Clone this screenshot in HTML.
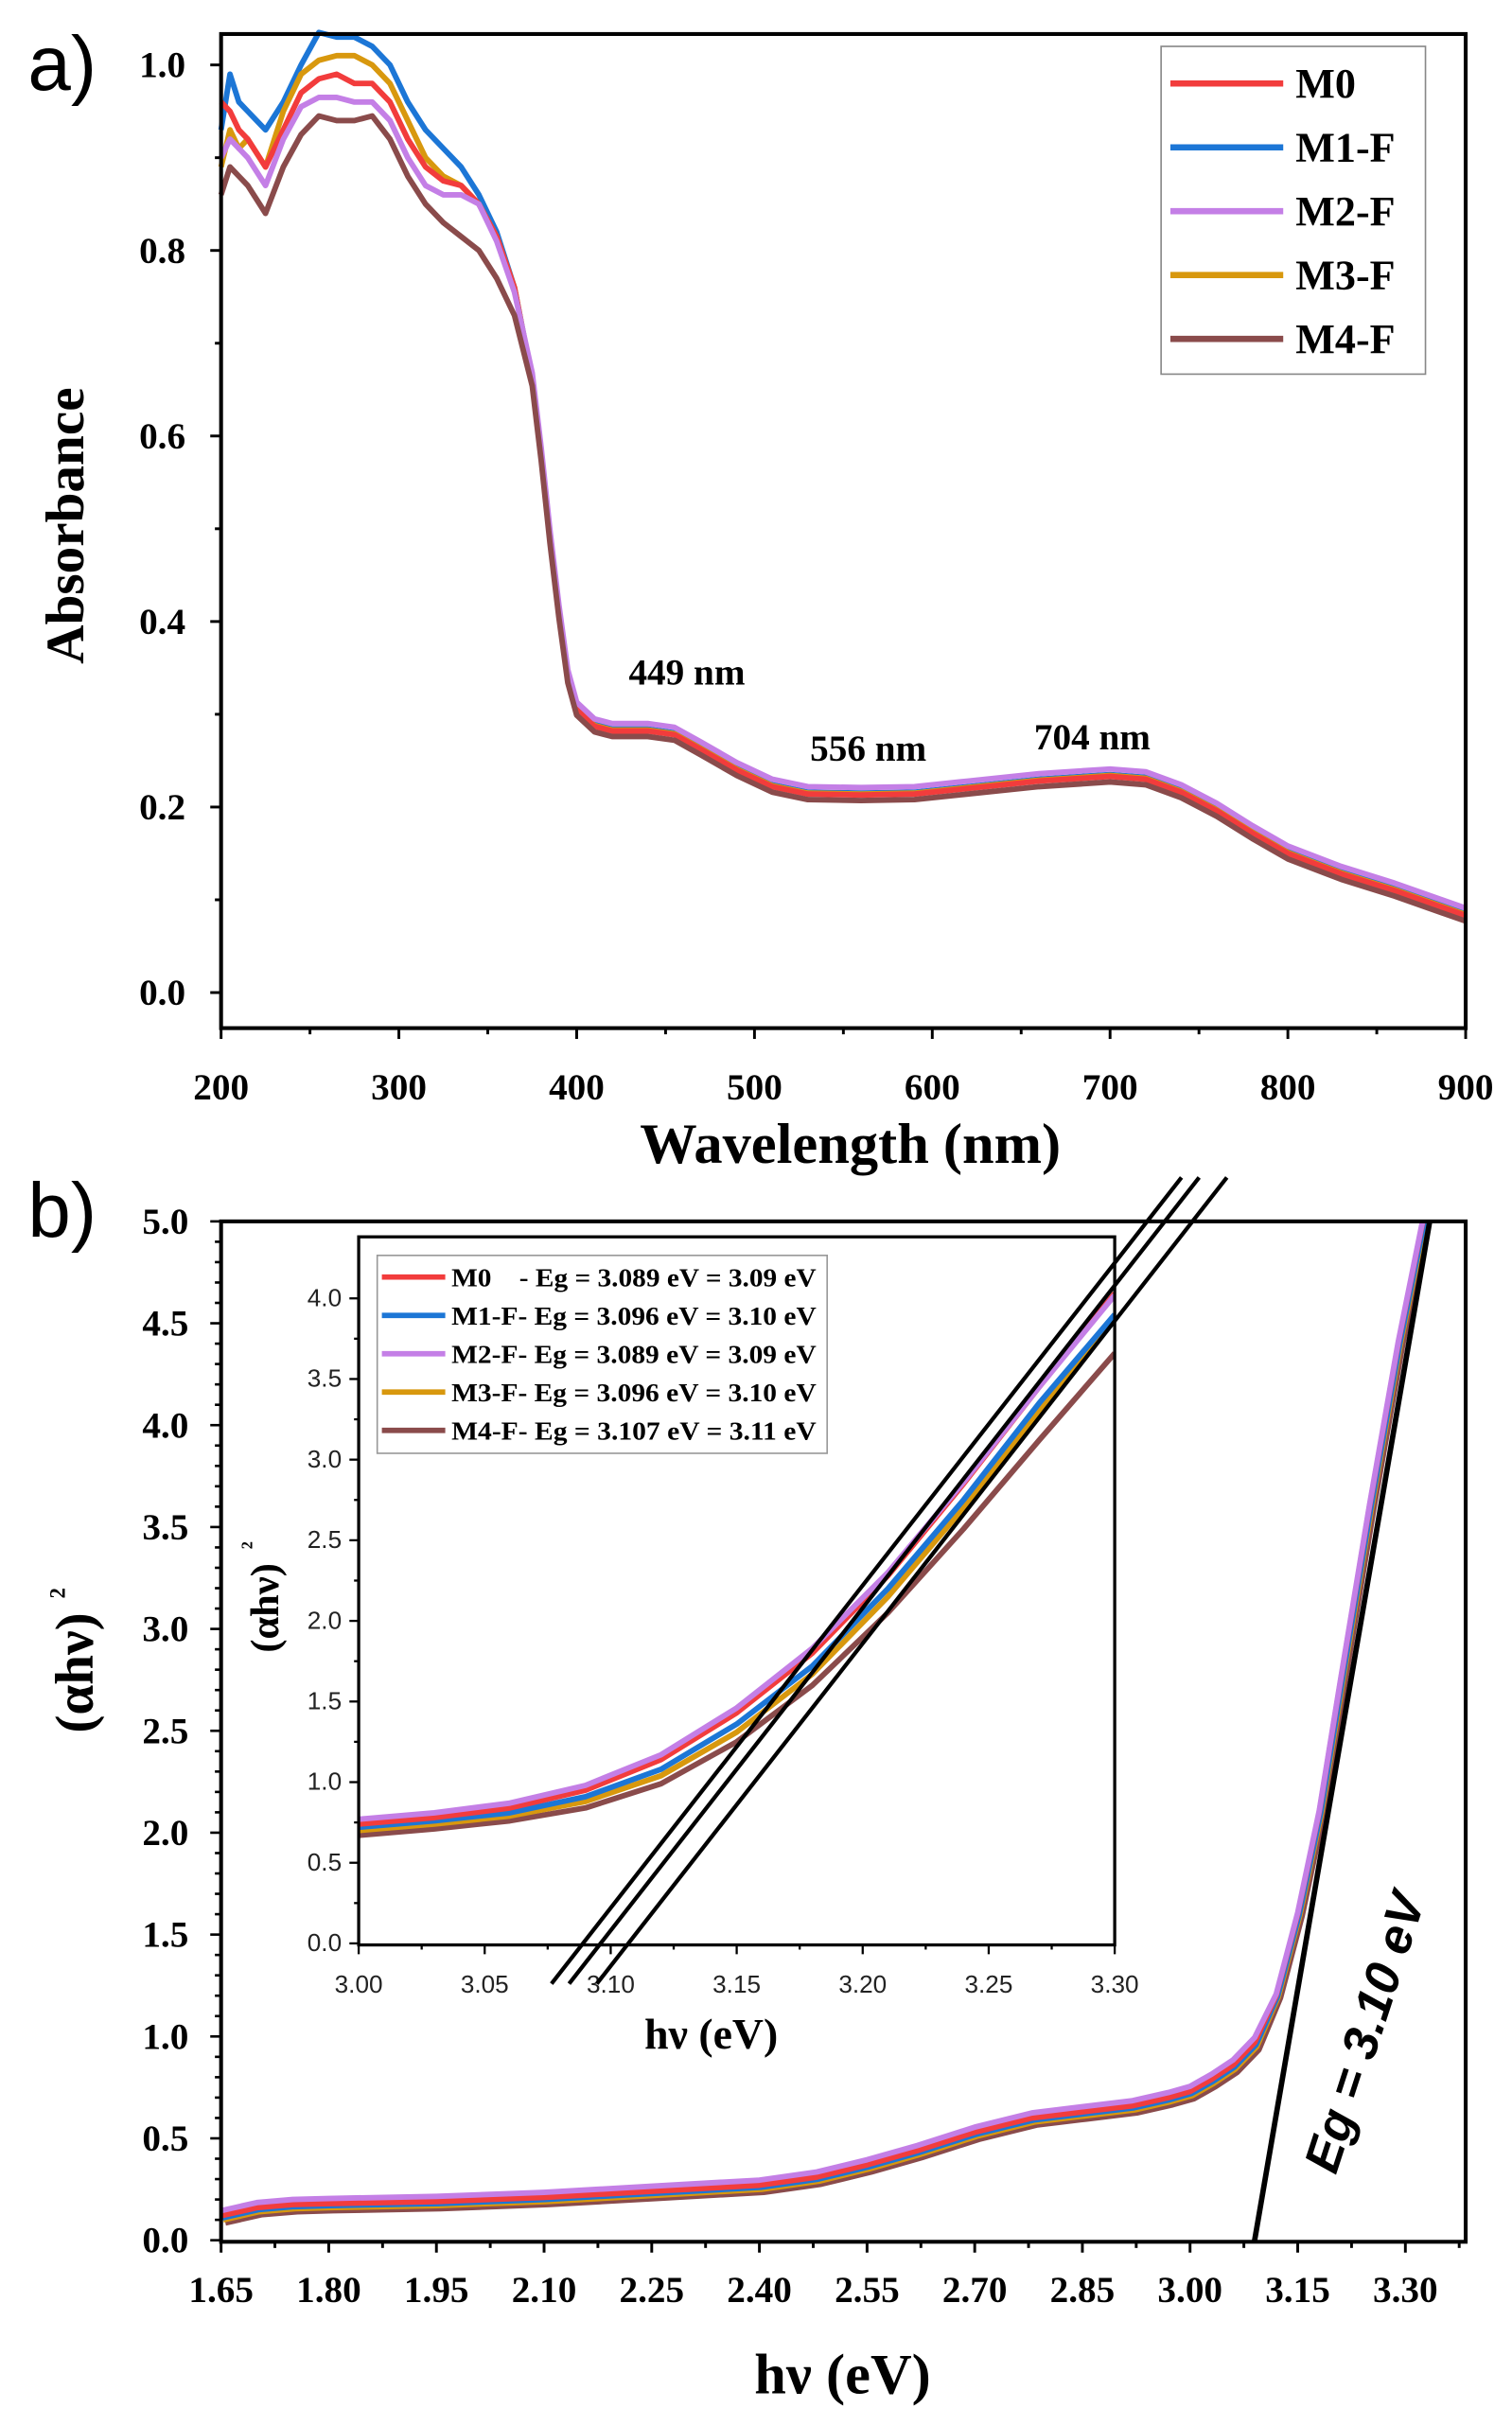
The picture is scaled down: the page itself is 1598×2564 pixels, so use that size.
<!DOCTYPE html>
<html><head><meta charset="utf-8"><style>
html,body{margin:0;padding:0;background:#fff}
svg{display:block}
.tk{font-family:"Liberation Serif",serif;font-weight:bold;font-size:24px;fill:#000}
.it{font-family:"Liberation Sans",sans-serif;font-size:16px;fill:#222}
.lg{font-family:"Liberation Serif",serif;font-weight:bold;font-size:27px}
.ilg{font-family:"Liberation Serif",serif;font-weight:bold;font-size:17px;white-space:pre}
</style></head><body>
<svg id="fig" width="1598" height="2564" viewBox="0 0 1598 2564" xmlns="http://www.w3.org/2000/svg">
<g id="root" transform="scale(1.634)">
<text x="18" y="58" font-family="Liberation Sans,sans-serif" font-size="50">a)</text>
<text x="18" y="800" font-family="Liberation Sans,sans-serif" font-size="50">b)</text>
<g id="pa"></g>
<g id="pb"></g>
</g>
</svg>
<script>
// ---------- Panel a data ----------
const seriesNames = ["M0","M1-F","M2-F","M3-F","M4-F"];
const seriesColors = ["#f23c3c","#1c76d6","#c47fe6","#d8980e","#8a4b4b"];
const uvWavelengths = [200,205,210,215,225,235,245,255,265,275,285,295,305,315,325,335,345,355,365];
const uvM0 = [0.96,0.95,0.93,0.92,0.89,0.93,0.97,0.985,0.99,0.98,0.98,0.96,0.92,0.89,0.875,0.87,0.85,0.815,0.76];
const uvM1 = [0.93,0.99,0.96,0.95,0.93,0.96,1.0,1.035,1.03,1.03,1.02,1.0,0.96,0.93,0.91,0.89,0.86,0.82,0.76];
const uvM2 = [0.90,0.92,0.91,0.90,0.87,0.92,0.955,0.965,0.965,0.96,0.96,0.94,0.90,0.87,0.86,0.86,0.85,0.81,0.755];
const uvM3 = [0.89,0.93,0.91,0.92,0.89,0.95,0.99,1.005,1.01,1.01,1.0,0.98,0.94,0.90,0.88,0.87,0.85,0.815,0.76];
const uvM4 = [0.86,0.89,0.88,0.87,0.84,0.89,0.925,0.945,0.94,0.94,0.945,0.92,0.88,0.85,0.83,0.815,0.80,0.77,0.73];
const tailWavelengths = [375,380,385,390,395,400,410,420,440,455,470,490,510,530,560,590,620,660,700,720,740,760,780,800,830,860,900];
const tailValues = [0.66,0.58,0.49,0.41,0.34,0.305,0.287,0.282,0.282,0.278,0.262,0.24,0.222,0.214,0.213,0.214,0.22,0.228,0.233,0.23,0.216,0.196,0.172,0.15,0.128,0.11,0.083];
const tailOffsets = [0,0.002,0.008,0.001,-0.006];
const xTicksA = [200,300,400,500,600,700,800,900];
const yTicksA = ["0.0","0.2","0.4","0.6","0.8","1.0"];
const peakLabels = ["449 nm","556 nm","704 nm"];
const peakPos = [[462,0.332],[564,0.25],[690,0.262]];

// ---------- Panel b data ----------
const bEnergy = [1.65,1.70,1.75,1.80,1.95,2.10,2.25,2.40,2.48,2.55,2.62,2.70,2.78,2.85,2.92,2.97,3.00,3.03,3.06,3.09,3.12,3.15,3.18,3.21,3.25,3.29,3.33];
const bM0 = [0.12,0.16,0.175,0.18,0.19,0.21,0.24,0.27,0.31,0.37,0.44,0.53,0.60,0.63,0.66,0.70,0.73,0.79,0.86,0.97,1.2,1.6,2.1,2.75,3.6,4.4,5.1];
const bOffsets = [0,-0.01,0.025,-0.02,-0.035];
const bShift = [0,0.002,0,0.003,0.006];
const xTicksB = ["1.65","1.80","1.95","2.10","2.25","2.40","2.55","2.70","2.85","3.00","3.15","3.30"];
const yTicksB = ["0.0","0.5","1.0","1.5","2.0","2.5","3.0","3.5","4.0","4.5","5.0"];
const mainFitIntercept = [3.09];
const mainFitSlope = [20.5];

// ---------- Inset data ----------
const insetEnergy = [3.00,3.03,3.06,3.09,3.12,3.15,3.18,3.21,3.24,3.27,3.30];
const insM0 = [0.74,0.78,0.84,0.95,1.14,1.43,1.80,2.28,2.85,3.45,4.03];
const insM1 = [0.72,0.76,0.81,0.91,1.08,1.36,1.72,2.20,2.75,3.35,3.90];
const insM2 = [0.77,0.81,0.87,0.98,1.17,1.46,1.83,2.30,2.86,3.45,4.02];
const insM3 = [0.70,0.74,0.79,0.88,1.04,1.31,1.67,2.15,2.70,3.30,3.88];
const insM4 = [0.67,0.71,0.76,0.84,0.99,1.25,1.60,2.05,2.57,3.12,3.66];
const insetLegend = ["M0    - Eg = 3.089 eV = 3.09 eV","M1-F- Eg = 3.096 eV = 3.10 eV","M2-F- Eg = 3.089 eV = 3.09 eV","M3-F- Eg = 3.096 eV = 3.10 eV","M4-F- Eg = 3.107 eV = 3.11 eV"];
const fitIntercepts = [3.089,3.096,3.107];
const fitSlope = [20.0];
const xTicksI = ["3.00","3.05","3.10","3.15","3.20","3.25","3.30"];
const yTicksI = ["0.0","0.5","1.0","1.5","2.0","2.5","3.0","3.5","4.0"];

const NS="http://www.w3.org/2000/svg";
function mk(parent,tag,attrs,text){const e=document.createElementNS(NS,tag);for(const k in attrs)e.setAttribute(k,attrs[k]);if(text!==undefined)e.textContent=text;parent.appendChild(e);return e;}
function pathD(xs,ys,fx,fy){return xs.map((x,i)=>(i?"L":"M")+fx(x).toFixed(2)+","+fy(ys[i]).toFixed(2)).join("");}

// ===== Panel A =====
const pa=document.getElementById('pa');
const axA={l:143,r:948,t:22,b:665};
const xA=v=>143+(v-200)*(805/700);
const yA=v=>642-v*600;
const uvSets=[uvM0,uvM1,uvM2,uvM3,uvM4];
[1,3,0,2,4].forEach(s=>{
  const xs=uvWavelengths.concat(tailWavelengths);
  const ys=uvSets[s].concat(tailValues.map(v=>v+tailOffsets[s]));
  const p=mk(pa,'path',{d:pathD(xs,ys,xA,yA),fill:'none',stroke:seriesColors[s],'stroke-width':3.6,'stroke-linejoin':'round'});
  
  
});
mk(pa,'rect',{x:axA.l,y:axA.t,width:axA.r-axA.l,height:axA.b-axA.t,fill:'none',stroke:'#000','stroke-width':2.5});
for(let v=200;v<=900;v+=50){const x=xA(v);const maj=v%100===0;mk(pa,'line',{x1:x,x2:x,y1:axA.b,y2:axA.b+(maj?7:4),stroke:'#000','stroke-width':1.8});}
xTicksA.forEach(v=>{const t=mk(pa,'text',{x:xA(v),y:711,'text-anchor':'middle',class:'tk'},String(v));});
for(let i=0;i<=10;i++){const y=yA(i*0.1);mk(pa,'line',{x1:axA.l,x2:axA.l-(i%2?4:7),y1:y,y2:y,stroke:'#000','stroke-width':1.8});}
yTicksA.forEach(s=>{const t=mk(pa,'text',{x:120,y:yA(parseFloat(s))+8,'text-anchor':'end',class:'tk'},s);});
let t=mk(pa,'text',{x:550,y:752,'text-anchor':'middle','font-family':'Liberation Serif,serif','font-weight':'bold','font-size':37},'Wavelength (nm)');

t=mk(pa,'text',{x:0,y:0,transform:'translate(54,340) rotate(-90)','text-anchor':'middle','font-family':'Liberation Serif,serif','font-weight':'bold','font-size':35},'Absorbance');

peakLabels.forEach((s,i)=>{const e=mk(pa,'text',{x:xA(peakPos[i][0]),y:yA(peakPos[i][1]),'text-anchor':'middle',class:'tk'},s);});
const lgA=mk(pa,'g',{});
mk(lgA,'rect',{x:751,y:30,width:171,height:212,fill:'#fff',stroke:'#888','stroke-width':1});
seriesNames.forEach((n,i)=>{const y=54+i*41.3;const g=mk(lgA,'g',{});
mk(g,'line',{x1:757,x2:830,y1:y,y2:y,stroke:seriesColors[i],'stroke-width':4});
mk(g,'text',{x:838,y:y+9,class:'lg'},n);});

// ===== Panel B =====
const pb=document.getElementById('pb');
const axB={l:143,r:948,t:790,b:1450};
const xB=v=>143+(v-1.65)*(766/1.65);
const yB=v=>1449-v*131.8;
const cp=mk(pb,'clipPath',{id:'cb'});mk(cp,'rect',{x:axB.l,y:axB.t,width:axB.r-axB.l,height:axB.b-axB.t});
const gB=mk(pb,'g',{'clip-path':'url(#cb)'});
[4,3,1,0,2].forEach(s=>{
  const xs=bEnergy.map(e=>e+bShift[s]);const ys=bM0.map(v=>Math.max(0,v+bOffsets[s]*(v<1.2?1:0.3)));
  const p=mk(gB,'path',{d:pathD(xs,ys,xB,yB),fill:'none',stroke:seriesColors[s],'stroke-width':3.6,'stroke-linejoin':'round'});
  
  
});
const y0f=-0.15,y1f=5.2;
let f=mk(gB,'line',{x1:xB(mainFitIntercept[0]+y0f/mainFitSlope[0]),y1:yB(y0f),x2:xB(mainFitIntercept[0]+y1f/mainFitSlope[0]),y2:yB(y1f),stroke:'#000','stroke-width':3.5});

mk(pb,'rect',{x:axB.l,y:axB.t,width:axB.r-axB.l,height:axB.b-axB.t,fill:'none',stroke:'#000','stroke-width':2.5});
for(let i=0;i<=24;i++){const v=1.65+i*0.075;const x=xB(v);if(x>axB.r)break;mk(pb,'line',{x1:x,x2:x,y1:axB.b,y2:axB.b+(i%2?4:7),stroke:'#000','stroke-width':1.8});}
xTicksB.forEach(s=>{const e=mk(pb,'text',{x:xB(parseFloat(s)),y:1489,'text-anchor':'middle',class:'tk'},s);});
for(let i=0;i<=50;i++){const y=yB(i*0.1);mk(pb,'line',{x1:axB.l,x2:axB.l-(i%5?4:7),y1:y,y2:y,stroke:'#000','stroke-width':1.6});}
yTicksB.forEach(s=>{const e=mk(pb,'text',{x:122,y:yB(parseFloat(s))+8,'text-anchor':'end',class:'tk'},s);});
t=mk(pb,'text',{x:545,y:1548,'text-anchor':'middle','font-family':'Liberation Serif,serif','font-weight':'bold','font-size':37},'hν (eV)');

t=mk(pb,'text',{x:0,y:0,transform:'translate(60,1082) rotate(-90)','text-anchor':'middle','font-family':'Liberation Serif,serif','font-weight':'bold','font-size':35},'(αhν)');

mk(pb,'text',{x:0,y:0,transform:'translate(42,1034) rotate(-90)','font-family':'Liberation Serif,serif','font-weight':'bold','font-size':14},'2');
t=mk(pb,'text',{x:0,y:0,transform:'translate(893,1318) rotate(-72)','text-anchor':'middle','font-family':'Liberation Sans,sans-serif','font-style':'italic','font-weight':'bold','font-size':32},'Eg = 3.10 eV');


// ===== Inset =====
const ins=mk(pb,'g',{});
const axI={l:232,r:721,t:800,b:1258};
const xI=v=>232+(v-3.0)*(489/0.3);
const yI=v=>1257-v*104.3;
mk(ins,'rect',{x:axI.l,y:axI.t,width:axI.r-axI.l,height:axI.b-axI.t,fill:'#fff'});
const ci=mk(ins,'clipPath',{id:'ci'});mk(ci,'rect',{x:axI.l,y:axI.t,width:axI.r-axI.l,height:axI.b-axI.t});
const gI=mk(ins,'g',{'clip-path':'url(#ci)'});
const insSets=[insM0,insM1,insM2,insM3,insM4];
[4,3,1,0,2].forEach(s=>{const p=mk(gI,'path',{d:pathD(insetEnergy,insSets[s],xI,yI),fill:'none',stroke:seriesColors[s],'stroke-width':3.6,'stroke-linejoin':'round'});
});
mk(ins,'rect',{x:axI.l,y:axI.t,width:axI.r-axI.l,height:axI.b-axI.t,fill:'none',stroke:'#000','stroke-width':2});
fitIntercepts.forEach((e0,i)=>{const ya=-0.25,yb=4.75;
const l=mk(pb,'line',{x1:xI(e0+ya/fitSlope[0]),y1:yI(ya),x2:xI(e0+yb/fitSlope[0]),y2:yI(yb),stroke:'#000','stroke-width':2.6});
});
for(let i=0;i<=12;i++){const x=xI(3+i*0.025);mk(ins,'line',{x1:x,x2:x,y1:axI.b,y2:axI.b+(i%2?3:6),stroke:'#000','stroke-width':1.4});}
xTicksI.forEach(s=>{const e=mk(ins,'text',{x:xI(parseFloat(s)),y:1289,'text-anchor':'middle',class:'it'},s);});
for(let i=0;i<=16;i++){const y=yI(i*0.25);mk(ins,'line',{x1:axI.l,x2:axI.l-(i%2?3:6),y1:y,y2:y,stroke:'#000','stroke-width':1.4});}
yTicksI.forEach(s=>{const e=mk(ins,'text',{x:221,y:yI(parseFloat(s))+5,'text-anchor':'end',class:'it'},s);});
t=mk(ins,'text',{x:460,y:1325,'text-anchor':'middle','font-family':'Liberation Serif,serif','font-weight':'bold','font-size':28},'hν (eV)');

t=mk(ins,'text',{x:0,y:0,transform:'translate(180,1040) rotate(-90)','text-anchor':'middle','font-family':'Liberation Serif,serif','font-weight':'bold','font-size':26},'(αhν)');

mk(ins,'text',{x:0,y:0,transform:'translate(163,1002) rotate(-90)','font-family':'Liberation Serif,serif','font-weight':'bold','font-size':10},'2');
const lgI=mk(ins,'g',{});
mk(lgI,'rect',{x:244,y:812,width:291,height:128,fill:'#fff',stroke:'#999','stroke-width':1});
insetLegend.forEach((s,i)=>{const y=826+i*24.8;const g=mk(lgI,'g',{});
mk(g,'line',{x1:247,x2:288,y1:y,y2:y,stroke:seriesColors[i],'stroke-width':3.5});
mk(g,'text',{x:292,y:y+6,class:'ilg',textLength:236,lengthAdjust:'spacingAndGlyphs'},s);});
</script>
</body></html>
